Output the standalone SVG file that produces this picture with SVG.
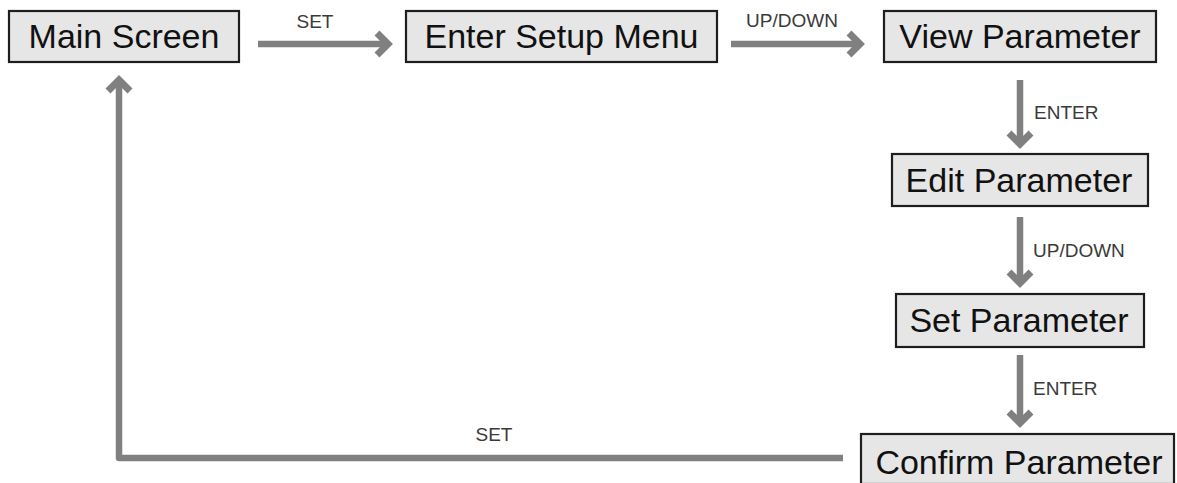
<svg xmlns="http://www.w3.org/2000/svg" width="1177" height="483" viewBox="0 0 1177 483">
  <style>
    .box { fill: #e6e6e6; stroke: #1e1e1e; stroke-width: 2.2; }
    .node-text { font-family: "Liberation Sans", Arial, sans-serif; font-size: 34px; fill: #111; text-anchor: middle; }
    .label { font-family: "Liberation Sans", Arial, sans-serif; font-size: 19px; fill: #3a3a3a; }
    .conn { fill: none; stroke: #808080; stroke-width: 6.5; stroke-linejoin: round; }
  </style>
  <defs>
    <marker id="arrow" markerUnits="userSpaceOnUse" viewBox="-18 -16 22 32" refX="0" refY="0" markerWidth="22" markerHeight="32" orient="auto" overflow="visible">
      <path d="M -12 -11 L -1 0 L -12 11" fill="none" stroke="#808080" stroke-width="7" stroke-linejoin="miter" stroke-miterlimit="10"/>
    </marker>
  </defs>
  <rect width="1177" height="483" fill="#ffffff"/>

  <g id="connectors">
    <line class="conn" x1="258" y1="44" x2="389" y2="44" marker-end="url(#arrow)"/>
    <line class="conn" x1="731" y1="44" x2="861" y2="44" marker-end="url(#arrow)"/>
    <line class="conn" x1="1020" y1="80" x2="1020" y2="145" marker-end="url(#arrow)"/>
    <line class="conn" x1="1020" y1="217" x2="1020" y2="284" marker-end="url(#arrow)"/>
    <line class="conn" x1="1020" y1="355" x2="1020" y2="424" marker-end="url(#arrow)"/>
    <polyline class="conn" points="843,458 119,458 119,79" marker-end="url(#arrow)"/>
    <text class="label" x="315" y="28" text-anchor="middle">SET</text>
    <text class="label" x="792" y="27" text-anchor="middle">UP/DOWN</text>
    <text class="label" x="1034" y="119">ENTER</text>
    <text class="label" x="1033" y="257">UP/DOWN</text>
    <text class="label" x="1033" y="395">ENTER</text>
    <text class="label" x="494" y="441" text-anchor="middle">SET</text>
  </g>

  <g id="main-screen">
    <rect class="box" x="9" y="11" width="230" height="51"/>
    <text class="node-text" x="124" y="48">Main Screen</text>
  </g>
  <g id="enter-setup-menu">
    <rect class="box" x="406" y="11" width="311" height="51"/>
    <text class="node-text" x="561.5" y="48">Enter Setup Menu</text>
  </g>
  <g id="view-parameter">
    <rect class="box" x="884" y="11" width="272" height="51"/>
    <text class="node-text" x="1020" y="48">View Parameter</text>
  </g>
  <g id="edit-parameter">
    <rect class="box" x="892" y="154" width="256" height="52"/>
    <text class="node-text" x="1019" y="192">Edit Parameter</text>
  </g>
  <g id="set-parameter">
    <rect class="box" x="896" y="294" width="248" height="53"/>
    <text class="node-text" x="1019" y="332">Set Parameter</text>
  </g>
  <g id="confirm-parameter">
    <rect class="box" x="861" y="434" width="313" height="50"/>
    <text class="node-text" x="1019" y="474">Confirm Parameter</text>
  </g>
</svg>
